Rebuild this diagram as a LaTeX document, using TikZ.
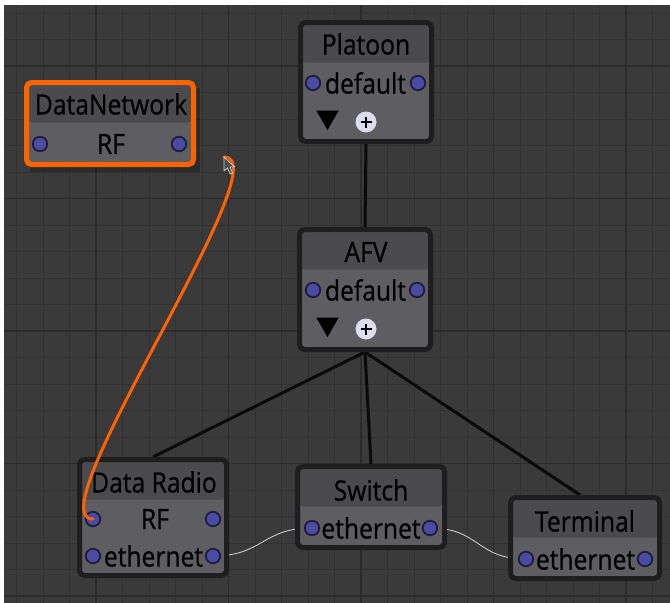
\documentclass[tikz,border=0pt]{standalone}
\usepackage{fontspec}
\setmainfont{Open Sans}[FakeStretch=0.88, FakeBold=0.6]
\usetikzlibrary{shapes.geometric}
\pgfdeclarelayer{gridlayer}
\pgfdeclarelayer{linklayer}
\pgfsetlayers{gridlayer,linklayer,main}
\definecolor{canvas}{HTML}{3A3A3A}
\definecolor{gridminor}{HTML}{323232}
\definecolor{gridmajor}{HTML}{2B2B2B}
\definecolor{boxborder}{HTML}{1E1E1E}
\definecolor{headfill}{HTML}{4B4B4D}
\definecolor{bodyfill}{HTML}{5E5D62}
\definecolor{portfill}{HTML}{4C4BA4}
\definecolor{portline}{HTML}{1D1D3E}
\definecolor{plusfill}{HTML}{DEDDF0}
\definecolor{selorange}{HTML}{FF6300}
\definecolor{wirewhite}{HTML}{D6D6D6}
\definecolor{linkblack}{HTML}{0A0A0A}
\tikzset{
  box/.style={draw=boxborder, line width=5pt, rounded corners=5pt, fill=bodyfill, inner sep=0pt,
    path picture={\fill[headfill] ([yshift=2pt]path picture bounding box.north west) rectangle ([yshift=-40pt]path picture bounding box.north east);}},
  selbox/.style={box, draw=selorange},
  lbl/.style={font=\fontsize{28}{32}\selectfont, text=black, inner sep=0pt},
  port/.style={circle, fill=portfill, draw=portline, line width=1.8pt, minimum size=14.5pt, inner sep=0pt},
  tri/.style={regular polygon, regular polygon sides=3, shape border rotate=180, fill=black, minimum size=26pt, inner sep=0pt},
  addbtn/.style={circle, fill=plusfill, minimum size=21pt, inner sep=0pt,
    path picture={\draw[line width=2pt, black] ([xshift=-5.5pt]path picture bounding box.center) -- ([xshift=5.5pt]path picture bounding box.center);
                  \draw[line width=2pt, black] ([yshift=-5.5pt]path picture bounding box.center) -- ([yshift=5.5pt]path picture bounding box.center);}},
  link/.style={draw=linkblack, line width=3pt},
  wire/.style={draw=wirewhite, line width=0.8pt},
  selwire/.style={draw=selorange, line width=3pt, line cap=round},
}
\begin{document}
\begin{tikzpicture}[x=1pt, y=-1pt]
\useasboundingbox (0,0) rectangle (670,603);
\begin{pgfonlayer}{gridlayer}
  \fill[white] (0,0) rectangle (670,603);
  \fill[canvas] (4,5) rectangle (670,603);
  \begin{scope}
    \clip (4,5) rectangle (670,603);
    \foreach \i in {-4,...,22} {
      \draw[gridminor, line width=1pt] ({96+26.5*\i},5) -- ({96+26.5*\i},603);
      \draw[gridminor, line width=1pt] (4,{66+26.5*\i}) -- (670,{66+26.5*\i});
    }
    \foreach \i in {-1,...,5} {
      \draw[gridmajor, line width=1.6pt] ({96+132.5*\i},5) -- ({96+132.5*\i},603);
      \draw[gridmajor, line width=1.6pt] (4,{66+132.5*\i}) -- (670,{66+132.5*\i});
    }
  \end{scope}
  \fill[black, opacity=0.25] (30,88) rectangle (200,172);
\end{pgfonlayer}

% DataNetwork (selected)
\node[selbox, minimum width=167pt, minimum height=82pt] (datanet) at (110,123.5) {};
\node[lbl] (datanet-title) at (111,104) {DataNetwork};
\node[lbl] (datanet-rf) at (111,144) {RF};
\node[port] (dn-rf-in) at (40,144) {};
\node[port] (dn-rf-out) at (179,144) {};

% Platoon
\node[box, minimum width=131pt, minimum height=119pt] (platoon) at (366,82) {};
\node[lbl] (platoon-title) at (366,44) {Platoon};
\node[lbl] (platoon-def) at (365.5,83) {default};
\node[port] (pl-in) at (313,83) {};
\node[port] (pl-out) at (418,83) {};
\node[tri] (pl-tri) at (327.5,117) {};
\node[addbtn] (pl-add) at (366,122) {};

% AFV
\node[box, minimum width=131pt, minimum height=120pt] (afv) at (365,289.5) {};
\node[lbl] (afv-title) at (366,252) {AFV};
\node[lbl] (afv-def) at (365.5,290) {default};
\node[port] (afv-in) at (313,290) {};
\node[port] (afv-out) at (417,290) {};
\node[tri] (afv-tri) at (327.5,324) {};
\node[addbtn] (afv-add) at (366,329) {};

% Data Radio
\node[box, minimum width=147pt, minimum height=116pt] (radio) at (153,517.5) {};
\node[lbl] (radio-title) at (154,482) {Data Radio};
\node[lbl] (radio-rf) at (155,519) {RF};
\node[lbl] (radio-eth) at (153.5,556) {ethernet};
\node[port] (dr-rf-in) at (93,519) {};
\node[port] (dr-rf-out) at (213,519) {};
\node[port] (dr-eth-in) at (93,556) {};
\node[port] (dr-eth-out) at (213,556) {};

% Switch
\node[box, minimum width=147pt, minimum height=81pt] (switch) at (371,507) {};
\node[lbl] (switch-title) at (371,490) {Switch};
\node[lbl] (switch-eth) at (371,528) {ethernet};
\node[port] (sw-eth-in) at (312,528) {};
\node[port] (sw-eth-out) at (430,528) {};

% Terminal
\node[box, minimum width=149pt, minimum height=81pt] (terminal) at (585,538) {};
\node[lbl] (terminal-title) at (585,521) {Terminal};
\node[lbl] (terminal-eth) at (585.5,559) {ethernet};
\node[port] (tm-eth-in) at (526,559) {};
\node[port] (tm-eth-out) at (645,559) {};

% connectors behind the boxes
\begin{pgfonlayer}{linklayer}
  \draw[link] (platoon.south) -- (afv.north);
  \draw[link] (afv.south) -- (radio.north);
  \draw[link] (afv.south) -- (switch.north);
  \draw[link] (afv.south) -- ([xshift=-5pt]terminal.north);
  \draw[wire] (dr-eth-out.center) .. controls +(50,0) and +(-50,0) .. (sw-eth-in.center);
  \draw[wire] (sw-eth-out.center) .. controls +(50,0) and +(-50,0) .. (tm-eth-in.center);
\end{pgfonlayer}

% wire being dragged
\coordinate (cursor) at (224,157);
\draw[selwire] (cursor) .. controls +(60,0) and +(-60,0) .. (dr-rf-in.center);
\draw[fill=gray!60!black, draw=gray!40, line width=0.8pt, line join=round]
  (cursor) -- ++(0,14) -- ++(3.5,-3) -- ++(2.5,6) -- ++(2.5,-1) -- ++(-2.5,-6) -- ++(4.5,0) -- cycle;
\end{tikzpicture}
\end{document}
